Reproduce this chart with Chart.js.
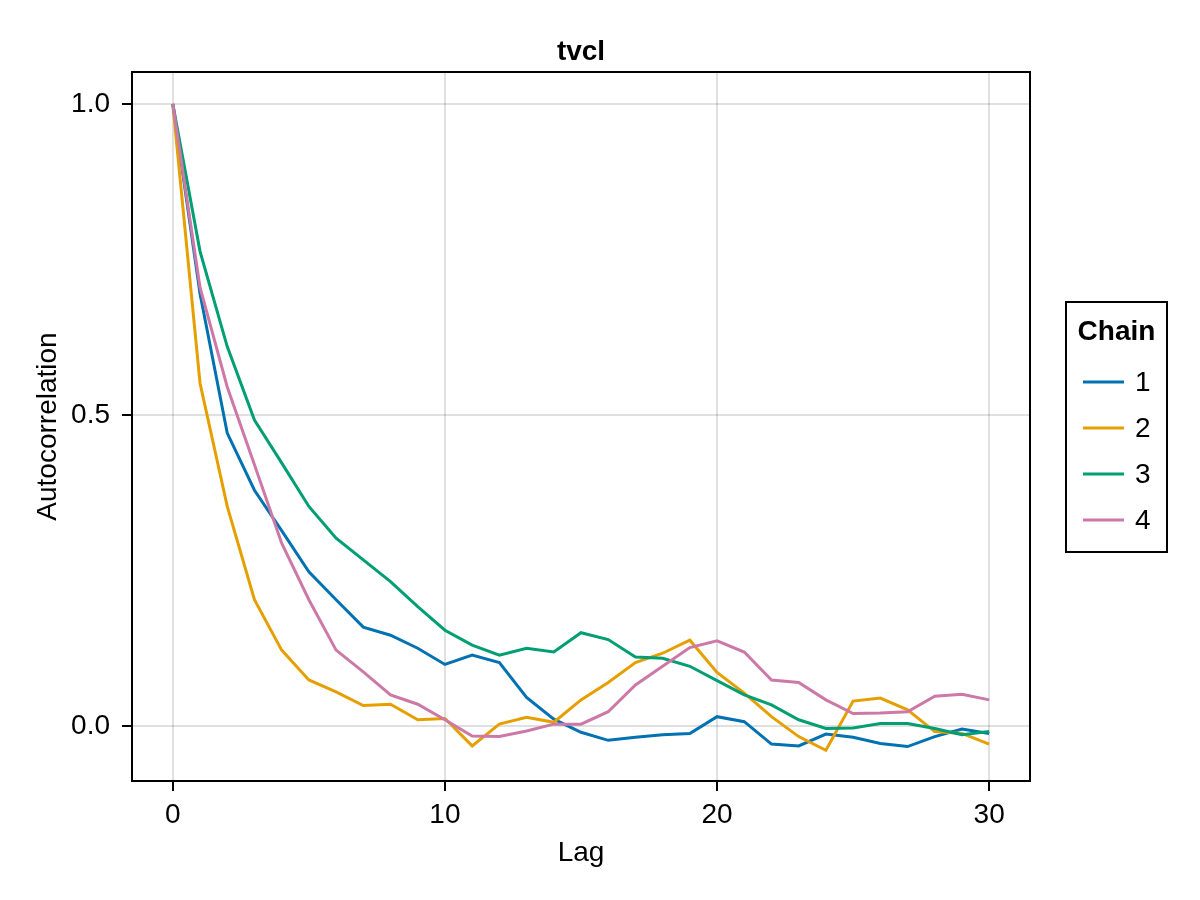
<!DOCTYPE html>
<html>
<head>
<meta charset="utf-8">
<script src="https://cdn.jsdelivr.net/npm/chart.js@4.4.1/dist/chart.umd.min.js"></script>
<style>
  html, body { margin: 0; padding: 0; background: #fff; }
  #wrap { width: 1200px; height: 900px; }
</style>
</head>
<body>
<div id="wrap"><canvas id="acfChart" width="1200" height="900"></canvas></div>
<script>
// Lags and autocorrelation per chain
const lags = [0, 1, 2, 3, 4, 5, 6, 7, 8, 9, 10, 11, 12, 13, 14, 15, 16, 17, 18, 19, 20, 21, 22, 23, 24, 25, 26, 27, 28, 29, 30];
const chain1 = [1.0, 0.695, 0.471, 0.379, 0.314, 0.248, 0.203, 0.159, 0.146, 0.125, 0.099, 0.114, 0.102, 0.046, 0.011, -0.010, -0.023, -0.018, -0.014, -0.012, 0.015, 0.007, -0.029, -0.032, -0.013, -0.018, -0.028, -0.033, -0.017, -0.005, -0.012];
const chain2 = [1.0, 0.551, 0.353, 0.203, 0.122, 0.074, 0.055, 0.033, 0.035, 0.010, 0.012, -0.032, 0.003, 0.014, 0.006, 0.042, 0.070, 0.102, 0.117, 0.138, 0.086, 0.053, 0.015, -0.017, -0.039, 0.040, 0.045, 0.026, -0.009, -0.012, -0.029];
const chain3 = [1.0, 0.763, 0.610, 0.492, 0.423, 0.353, 0.302, 0.267, 0.232, 0.192, 0.154, 0.130, 0.114, 0.125, 0.119, 0.150, 0.139, 0.111, 0.109, 0.096, 0.073, 0.050, 0.034, 0.010, -0.004, -0.003, 0.004, 0.004, -0.004, -0.014, -0.009];
const chain4 = [1.0, 0.705, 0.545, 0.420, 0.294, 0.203, 0.122, 0.087, 0.050, 0.035, 0.010, -0.016, -0.017, -0.008, 0.003, 0.003, 0.023, 0.066, 0.096, 0.126, 0.137, 0.119, 0.074, 0.070, 0.042, 0.020, 0.021, 0.023, 0.048, 0.051, 0.042];

const chainNames = ['1', '2', '3', '4'];
const chainColors = ['#0072B2', '#E69F00', '#009E73', '#CC79A7'];
const xTicks = [0, 10, 20, 30];
const yTicks = [0, 0.5, 1.0];

const FONT = "'Liberation Sans', Arial, Helvetica, sans-serif";
Chart.defaults.font.family = FONT;
Chart.defaults.font.size = 28;
Chart.defaults.color = '#000';

const series = [chain1, chain2, chain3, chain4];
const datasets = series.map((vals, i) => ({
  label: chainNames[i],
  data: lags.map((lag, j) => ({ x: lag, y: vals[j] })),
  borderColor: chainColors[i],
  borderWidth: 3,
  pointRadius: 0,
  tension: 0,
  fill: false,
  order: series.length - i  // later chains on top
}));

// Frame, title and legend box drawn around the plot
const decorations = {
  id: 'decorations',
  afterDraw(chart) {
    const { ctx, chartArea: a } = chart;
    ctx.save();
    ctx.strokeStyle = '#000';
    ctx.lineWidth = 2;
    ctx.strokeRect(a.left, a.top, a.right - a.left, a.bottom - a.top);

    // title
    ctx.fillStyle = '#000';
    ctx.font = 'bold 28px ' + FONT;
    ctx.textAlign = 'center';
    ctx.textBaseline = 'middle';
    ctx.fillText('tvcl', (a.left + a.right) / 2, 52);

    // legend
    const bx = a.right + 36, by = 302, bw = 101, bh = 250;
    ctx.strokeRect(bx, by, bw, bh);
    ctx.fillText('Chain', bx + bw / 2, by + 30);
    ctx.font = '28px ' + FONT;
    ctx.textAlign = 'left';
    chainNames.forEach((name, i) => {
      const y = by + 80 + i * 46;
      ctx.strokeStyle = chainColors[i];
      ctx.lineWidth = 3;
      ctx.beginPath();
      ctx.moveTo(bx + 17, y);
      ctx.lineTo(bx + 58, y);
      ctx.stroke();
      ctx.fillText(name, bx + 69, y + 1);
    });
    ctx.restore();
  }
};

new Chart(document.getElementById('acfChart').getContext('2d'), {
  type: 'line',
  data: { datasets: datasets },
  options: {
    responsive: false,
    animation: false,
    layout: { padding: { top: 72, right: 170, bottom: 0, left: 0 } },
    scales: {
      x: {
        type: 'linear',
        min: -1.5,
        max: 31.5,
        afterBuildTicks: (scale) => { scale.ticks = xTicks.map(v => ({ value: v })); },
        afterFit: (scale) => { scale.height = 119; },
        grid: { color: 'rgba(0,0,0,0.12)', lineWidth: 2, tickLength: 10, tickColor: '#000', tickWidth: 2 },
        border: { display: true, color: '#000', width: 2 },
        ticks: { padding: 7, maxRotation: 0 },
        title: { display: true, text: 'Lag', padding: { top: 0, bottom: 30 } }
      },
      y: {
        min: -0.0884,
        max: 1.0514,
        afterBuildTicks: (scale) => { scale.ticks = yTicks.map(v => ({ value: v })); },
        afterFit: (scale) => { scale.width = 132; },
        grid: { color: 'rgba(0,0,0,0.12)', lineWidth: 2, tickLength: 10, tickColor: '#000', tickWidth: 2 },
        border: { display: true, color: '#000', width: 2 },
        ticks: { padding: 12, callback: (v) => v.toFixed(1) },
        title: { display: true, text: 'Autocorrelation', padding: { top: 31, bottom: 0 } }
      }
    },
    plugins: {
      legend: { display: false },
      tooltip: { enabled: false }
    }
  },
  plugins: [decorations]
});
</script>
</body>
</html>
